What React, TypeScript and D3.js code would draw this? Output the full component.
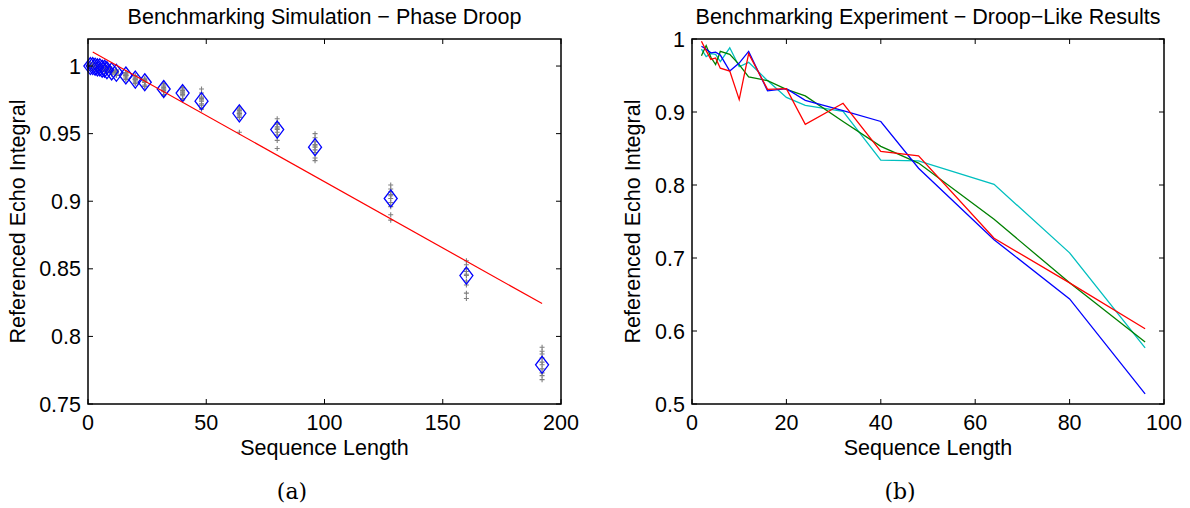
import React from "react";
import * as d3 from "d3";

// ---------- Panel (a) data ----------
const simLengths = [1, 2, 3, 4, 5, 6, 7, 8, 10, 12, 16, 20, 24, 32, 40, 48, 64, 80, 96, 128, 160, 192];
const simMeans = [1.0, 1.0, 0.9995, 0.999, 0.999, 0.998, 0.998, 0.997, 0.996, 0.995, 0.993, 0.99, 0.988, 0.983, 0.98, 0.974, 0.965, 0.953, 0.94, 0.902, 0.845, 0.779];
const simSamples = [
  [1.0, 1.001, 0.999, 1.0, 1.002, 0.998, 1.0, 1.001, 0.999, 1.0],
  [1.0, 1.001, 0.999, 1.002, 0.998, 1.0, 1.001, 0.999, 1.0, 1.0],
  [0.999, 1.001, 0.998, 1.0, 1.002, 0.998, 0.999, 1.0, 1.001, 0.999],
  [0.999, 1.0, 0.998, 1.001, 0.997, 0.999, 1.0, 0.998, 1.001, 0.999],
  [0.999, 1.0, 0.997, 1.001, 0.998, 0.999, 1.0, 0.998, 1.0, 0.998],
  [0.998, 0.999, 0.997, 1.0, 0.996, 0.998, 0.999, 0.997, 0.999, 0.998],
  [0.998, 0.999, 0.996, 1.0, 0.997, 0.998, 0.999, 0.997, 0.998, 0.998],
  [0.997, 0.999, 0.995, 0.998, 0.996, 0.997, 0.999, 0.996, 0.998, 0.997],
  [0.996, 0.998, 0.994, 0.997, 0.995, 0.996, 0.998, 0.995, 0.997, 0.996],
  [0.995, 0.997, 0.993, 0.996, 0.994, 0.995, 0.997, 0.993, 0.996, 0.995],
  [0.993, 0.995, 0.991, 0.994, 0.992, 0.993, 0.995, 0.99, 0.994, 0.993],
  [0.99, 0.993, 0.987, 0.991, 0.989, 0.99, 0.992, 0.988, 0.991, 0.99],
  [0.988, 0.991, 0.985, 0.989, 0.986, 0.988, 0.99, 0.985, 0.989, 0.988],
  [0.983, 0.987, 0.979, 0.985, 0.981, 0.983, 0.986, 0.978, 0.984, 0.982],
  [0.98, 0.984, 0.976, 0.982, 0.978, 0.98, 0.983, 0.975, 0.981, 0.979],
  [0.974, 0.983, 0.969, 0.977, 0.971, 0.975, 0.98, 0.968, 0.976, 0.972],
  [0.965, 0.969, 0.962, 0.967, 0.963, 0.966, 0.968, 0.951, 0.964, 0.965],
  [0.953, 0.961, 0.945, 0.957, 0.949, 0.954, 0.958, 0.939, 0.951, 0.955],
  [0.94, 0.95, 0.932, 0.944, 0.936, 0.941, 0.947, 0.93, 0.938, 0.942],
  [0.902, 0.912, 0.886, 0.907, 0.896, 0.904, 0.909, 0.89, 0.899, 0.905],
  [0.845, 0.856, 0.828, 0.85, 0.838, 0.846, 0.853, 0.832, 0.841, 0.848],
  [0.779, 0.792, 0.768, 0.787, 0.773, 0.781, 0.789, 0.771, 0.776, 0.784],
];
const fitX = [2, 192];
const fitY = [1.0104, 0.8243];
const simXTicks = [0, 50, 100, 150, 200];
const simYTicks = [0.75, 0.8, 0.85, 0.9, 0.95, 1];
const simYTickLabels = ["0.75", "0.8", "0.85", "0.9", "0.95", "1"];

// ---------- Panel (b) data ----------
const expLengths = [2, 3, 4, 5, 6, 8, 10, 12, 16, 20, 24, 32, 40, 48, 64, 80, 96];
const expBlue = [0.99, 0.986, 0.981, 0.982, 0.978, 0.956, 0.967, 0.983, 0.929, 0.932, 0.916, 0.902, 0.887, 0.823, 0.725, 0.644, 0.514];
const expRed = [0.997, 0.984, 0.972, 0.974, 0.96, 0.956, 0.917, 0.98, 0.931, 0.932, 0.883, 0.912, 0.846, 0.84, 0.727, 0.666, 0.603];
const expGreen = [0.977, 0.991, 0.975, 0.965, 0.983, 0.979, 0.965, 0.948, 0.943, 0.931, 0.922, 0.887, 0.853, 0.83, 0.753, 0.666, 0.585];
const expCyan = [0.986, 0.976, 0.98, 0.979, 0.969, 0.988, 0.962, 0.968, 0.943, 0.92, 0.909, 0.901, 0.834, 0.833, 0.801, 0.707, 0.577];
const expXTicks = [0, 20, 40, 60, 80, 100];
const expYTicks = [0.5, 0.6, 0.7, 0.8, 0.9, 1];
const expYTickLabels = ["0.5", "0.6", "0.7", "0.8", "0.9", "1"];

const FONT = "'Liberation Sans', Arial, Helvetica, sans-serif";
const FS = 21.5;
const AX = "#000";

type FrameProps = {
  x: d3.ScaleLinear<number, number>;
  y: d3.ScaleLinear<number, number>;
  xTicks: number[];
  yTicks: number[];
  yLabels: string[];
  title: string;
  sub: string;
  subX: number;
  yLabelOffset: number;
};

function Frame({ x, y, xTicks, yTicks, yLabels, title, sub, subX, yLabelOffset }: FrameProps) {
  const [x0, x1] = x.range();
  const [y1, y0] = y.range();
  const cx = (x0 + x1) / 2;
  const tl = 5;
  return (
    <g>
      {xTicks.map((t) => (
        <g key={"xt" + t}>
          <line x1={x(t)} x2={x(t)} y1={y1} y2={y1 - tl} stroke={AX} strokeWidth={1} />
          <line x1={x(t)} x2={x(t)} y1={y0} y2={y0 + tl} stroke={AX} strokeWidth={1} />
          <text x={x(t)} y={y1 + 26} textAnchor="middle" fontFamily={FONT} fontSize={FS}>
            {String(t)}
          </text>
        </g>
      ))}
      {yTicks.map((t, i) => (
        <g key={"yt" + t}>
          <line x1={x0} x2={x0 + tl} y1={y(t)} y2={y(t)} stroke={AX} strokeWidth={1} />
          <line x1={x1} x2={x1 - tl} y1={y(t)} y2={y(t)} stroke={AX} strokeWidth={1} />
          <text x={x0 - 7} y={y(t) + 7.5} textAnchor="end" fontFamily={FONT} fontSize={FS}>
            {yLabels[i]}
          </text>
        </g>
      ))}
      <rect x={x0} y={y0} width={x1 - x0} height={y1 - y0} fill="none" stroke={AX} strokeWidth={1.5} />
      <text x={cx} y={24} textAnchor="middle" fontFamily={FONT} fontSize={FS}>
        {title}
      </text>
      <text x={cx} y={455} textAnchor="middle" fontFamily={FONT} fontSize={FS}>
        Sequence Length
      </text>
      <text
        transform={`translate(${x0 - yLabelOffset},${(y0 + y1) / 2}) rotate(-90)`}
        textAnchor="middle"
        fontFamily={FONT}
        fontSize={FS}
      >
        Referenced Echo Integral
      </text>
      <text x={subX} y={499} textAnchor="middle" fontFamily="'DejaVu Serif', 'Liberation Serif', serif" fontSize={22}>
        {sub}
      </text>
    </g>
  );
}

export default function App() {
  const xa = d3.scaleLinear().domain([0, 200]).range([88, 561]);
  const ya = d3.scaleLinear().domain([0.75, 1.02]).range([404, 39]);
  const xb = d3.scaleLinear().domain([0, 100]).range([692, 1164]);
  const yb = d3.scaleLinear().domain([0.5, 1]).range([404, 39]);

  const fitLine = d3
    .line<number>()
    .x((_, i) => xa(fitX[i]))
    .y((d) => ya(d))(fitY);

  const mkLine = (vals: number[]) =>
    d3
      .line<number>()
      .x((_, i) => xb(expLengths[i]))
      .y((d) => yb(d))(vals) as string;

  const series = [
    { vals: expCyan, color: "#00bfbf" },
    { vals: expGreen, color: "#008000" },
    { vals: expBlue, color: "#0000ff" },
    { vals: expRed, color: "#ff0000" },
  ];

  const pw = 2.5;
  const dw = 6.5;
  const dh = 8.5;

  return (
    <svg
      width={1190}
      height={508}
      style={{ position: "absolute", left: 0, top: 0, background: "#fff" }}
    >
      <rect x={0} y={0} width={1190} height={508} fill="#fff" />
      {/* Panel (a) */}
      <g>
        {simSamples.map((arr, i) =>
          arr.map((v, j) => (
            <path
              key={`s${i}-${j}`}
              d={`M${xa(simLengths[i]) - pw},${ya(v)}h${2 * pw}M${xa(simLengths[i])},${ya(v) - pw}v${2 * pw}`}
              stroke="#808080"
              strokeWidth={1.1}
              fill="none"
            />
          ))
        )}
        {simMeans.map((m, i) => {
          const cx = xa(simLengths[i]);
          const cy = ya(m);
          return (
            <path
              key={"d" + i}
              d={`M${cx},${cy - dh}L${cx + dw},${cy}L${cx},${cy + dh}L${cx - dw},${cy}Z`}
              fill="none"
              stroke="#0000ff"
              strokeWidth={1.3}
            />
          );
        })}
        <path d={fitLine as string} stroke="#ff0000" strokeWidth={1.2} fill="none" />
        <Frame
          x={xa}
          y={ya}
          xTicks={simXTicks}
          yTicks={simYTicks}
          yLabels={simYTickLabels}
          title="Benchmarking Simulation − Phase Droop"
          sub="(a)"
          subX={292}
          yLabelOffset={63}
        />
      </g>
      {/* Panel (b) */}
      <g>
        {series.map((s, i) => (
          <path key={"l" + i} d={mkLine(s.vals)} stroke={s.color} strokeWidth={1.3} fill="none" />
        ))}
        <Frame
          x={xb}
          y={yb}
          xTicks={expXTicks}
          yTicks={expYTicks}
          yLabels={expYTickLabels}
          title="Benchmarking Experiment − Droop−Like Results"
          sub="(b)"
          subX={900}
          yLabelOffset={52}
        />
      </g>
    </svg>
  );
}
